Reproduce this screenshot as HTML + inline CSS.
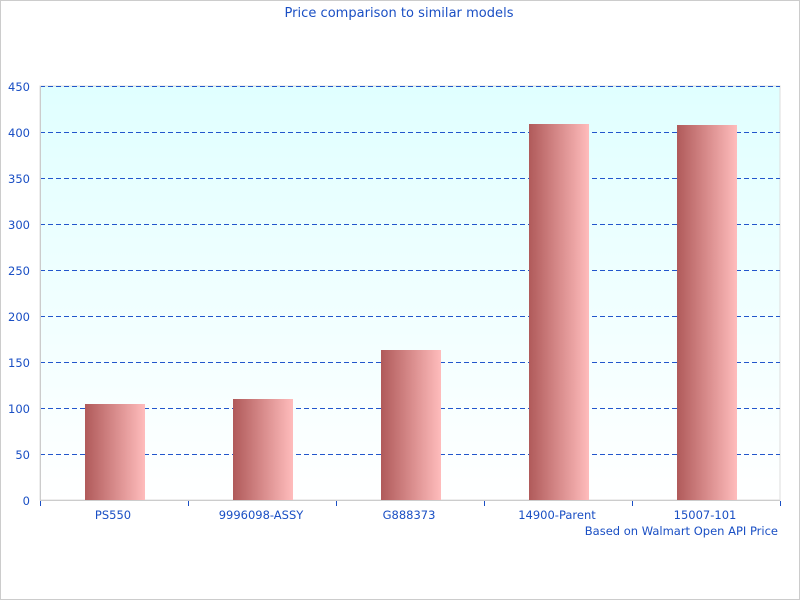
<!DOCTYPE html><html><head><style>body{margin:0}svg{display:block}text{font-family:"DejaVu Sans",sans-serif;font-size:11.5px;fill:#1a4fc4}</style></head><body>
<svg width="800" height="600" xmlns="http://www.w3.org/2000/svg">
<defs>
<linearGradient id="bg" x1="0" y1="0" x2="0" y2="1"><stop offset="0" stop-color="#e0ffff"/><stop offset="1" stop-color="#ffffff"/></linearGradient>
<linearGradient id="bar" x1="0" y1="0" x2="1" y2="0"><stop offset="0" stop-color="#b05a5a"/><stop offset="1" stop-color="#ffbcbc"/></linearGradient>
</defs>
<rect x="0.5" y="0.5" width="799" height="599" fill="#fff" stroke="#ccc"/>
<rect x="40" y="86" width="740" height="414" fill="url(#bg)" stroke="#ddd"/>
<text x="399" y="17" text-anchor="middle" style="font-size:13px" textLength="229">Price comparison to similar models</text>
<g stroke="#2256cc" stroke-dasharray="5,3" stroke-width="1">
<line x1="40" y1="86.5" x2="780" y2="86.5"/><line x1="40" y1="132.5" x2="780" y2="132.5"/><line x1="40" y1="178.5" x2="780" y2="178.5"/><line x1="40" y1="224.5" x2="780" y2="224.5"/><line x1="40" y1="270.5" x2="780" y2="270.5"/><line x1="40" y1="316.5" x2="780" y2="316.5"/><line x1="40" y1="362.5" x2="780" y2="362.5"/><line x1="40" y1="408.5" x2="780" y2="408.5"/><line x1="40" y1="454.5" x2="780" y2="454.5"/>
</g>
<g text-anchor="end">
<text x="30" y="91">450</text><text x="30" y="137">400</text><text x="30" y="183">350</text><text x="30" y="229">300</text><text x="30" y="275">250</text><text x="30" y="321">200</text><text x="30" y="367">150</text><text x="30" y="413">100</text><text x="30" y="459">50</text><text x="30" y="505">0</text>
</g>
<g fill="url(#bar)">
<rect x="85" y="404" width="60" height="96"/>
<rect x="233" y="399" width="60" height="101"/>
<rect x="381" y="350" width="60" height="150"/>
<rect x="529" y="124" width="60" height="376"/>
<rect x="677" y="125" width="60" height="375"/>
</g>
<line x1="40" y1="500.5" x2="780" y2="500.5" stroke="#ccc"/>
<line x1="40.5" y1="86" x2="40.5" y2="500" stroke="#ccc"/>
<g stroke="#1a4fc4"><line x1="40.5" y1="501" x2="40.5" y2="506"/><line x1="188.5" y1="501" x2="188.5" y2="506"/><line x1="336.5" y1="501" x2="336.5" y2="506"/><line x1="484.5" y1="501" x2="484.5" y2="506"/><line x1="632.5" y1="501" x2="632.5" y2="506"/><line x1="780.5" y1="501" x2="780.5" y2="506"/></g>
<g text-anchor="middle">
<text x="113" y="519">PS550</text><text x="261" y="519">9996098-ASSY</text><text x="409" y="519">G888373</text><text x="557" y="519">14900-Parent</text><text x="705" y="519">15007-101</text>
</g>
<text x="778" y="535" text-anchor="end">Based on Walmart Open API Price</text>
</svg>
</body></html>
